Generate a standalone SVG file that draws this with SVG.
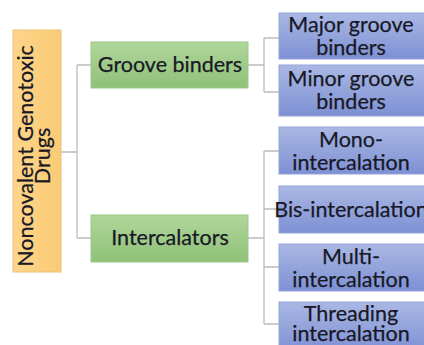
<svg xmlns="http://www.w3.org/2000/svg" width="424" height="345" viewBox="0 0 424 345">
<defs>
<linearGradient id="gb" x1="0" y1="0" x2="0" y2="1"><stop offset="0" stop-color="#aab8e4"/><stop offset="1" stop-color="#7d90d3"/></linearGradient>
<linearGradient id="gg" x1="0" y1="0" x2="0" y2="1"><stop offset="0" stop-color="#b0d69b"/><stop offset="1" stop-color="#8fc177"/></linearGradient>
<linearGradient id="go" x1="0" y1="0" x2="1" y2="0"><stop offset="0" stop-color="#fdd58a"/><stop offset="1" stop-color="#fbcb75"/></linearGradient>
<style>
text{font-family:Lato,"Open Sans","Liberation Sans",sans-serif;font-size:21.5px;fill:#181826;text-anchor:middle;stroke:#181826;stroke-width:0.25}
.b rect{fill:url(#gb);stroke:#93a3da;stroke-width:1}
.g rect{fill:url(#gg);stroke:#9cc985;stroke-width:1}
.o rect{fill:url(#go);stroke:#e8c27a;stroke-width:1}
#connectors path{fill:none;stroke:#bcbcbc;stroke-width:1.3}
</style>
</defs>
<rect width="424" height="345" fill="#ffffff"/>
<g id="connectors">
<path d="M61 152H77M77 65V238M77 65H91M77 238H91"/>
<path d="M248 65H264M264 38V92M264 38H279M264 92H279"/>
<path d="M248 238H264M264 151V324M264 151H279M264 209H279M264 267H279M264 324H279"/>
</g>
<g id="root" class="o"><rect x="13" y="30" width="48" height="242"/>
<text transform="translate(37 156) rotate(-90)"><tspan x="0" y="-4">Noncovalent Genotoxic</tspan><tspan x="0" y="13">Drugs</tspan></text></g>
<g id="groove" class="g"><rect x="91" y="42" width="157" height="46"/><text x="170" y="72">Groove binders</text></g>
<g id="intercalators" class="g"><rect x="91" y="215" width="157" height="47"/><text x="170" y="245">Intercalators</text></g>
<g id="major" class="b"><rect x="279" y="13" width="146" height="46"/><text x="351"><tspan x="351" y="32">Major groove</tspan><tspan x="351" y="55">binders</tspan></text></g>
<g id="minor" class="b"><rect x="279" y="65" width="146" height="51"/><text x="351"><tspan x="351" y="86">Minor groove</tspan><tspan x="351" y="109">binders</tspan></text></g>
<g id="mono" class="b"><rect x="279" y="127" width="146" height="47"/><text x="351"><tspan x="351" y="147">Mono-</tspan><tspan x="351" y="170">intercalation</tspan></text></g>
<g id="bis" class="b"><rect x="279" y="186" width="146" height="47"/><text x="351" y="217">Bis-intercalation</text></g>
<g id="multi" class="b"><rect x="279" y="244" width="146" height="47"/><text x="351"><tspan x="351" y="264">Multi-</tspan><tspan x="351" y="287">intercalation</tspan></text></g>
<g id="threading" class="b"><rect x="279" y="302" width="146" height="50"/><text x="351"><tspan x="351" y="321">Threading</tspan><tspan x="351" y="341">intercalation</tspan></text></g>
</svg>
